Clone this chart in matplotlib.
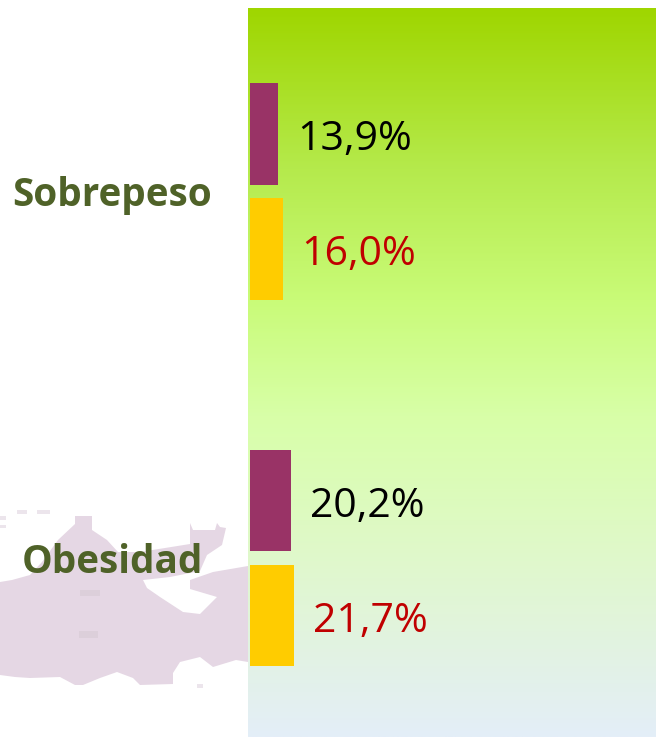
import matplotlib
matplotlib.use('Agg')
import matplotlib.pyplot as plt
import numpy as np
from matplotlib.colors import LinearSegmentedColormap

# chart data
categories = ['Sobrepeso', 'Obesidad']
series_a = [13.9, 20.2]
series_b = [16.0, 21.7]
labels_a = ['13,9%', '20,2%']
labels_b = ['16,0%', '21,7%']

W, H = 656, 737
plt.rcParams['font.family'] = ['Open Sans', 'DejaVu Sans']

fig = plt.figure(figsize=(W / 100, H / 100), dpi=100, facecolor='white')

# pale map behind the labels, traced in image pixels
bg = fig.add_axes([0, 0, 1, 1])
bg.set_xlim(0, W)
bg.set_ylim(H, 0)
bg.axis('off')
map_color = '#e5d7e4'
map_main = [(0, 582), (12, 580), (30, 575), (42, 562), (58, 540), (75, 524), (75, 516), (92, 516),
            (92, 530), (107, 540), (118, 552), (140, 552), (165, 548), (190, 544), (190, 523),
            (193, 530), (215, 530), (217, 523), (220, 527), (226, 528), (222, 545), (207, 555),
            (200, 571), (170, 577), (143, 580), (147, 588), (160, 597), (183, 612), (200, 614),
            (217, 597), (190, 589), (190, 580), (213, 572), (248, 566),
            (248, 662), (236, 660), (213, 667), (200, 657), (180, 662), (173, 673), (173, 684),
            (140, 685), (133, 678), (117, 672), (100, 678), (83, 685), (75, 685), (60, 677),
            (30, 678), (15, 677), (0, 675)]
bg.fill(*zip(*map_main), color=map_color, lw=0)
for x0, x1, y0, y1 in [(80, 100, 590, 596), (79, 98, 631, 638)]:
    bg.fill([x0, x1, x1, x0], [y0, y0, y1, y1], color='#dccfda', lw=0)
for x0, x1, y0, y1 in [(0, 6, 516, 520), (0, 6, 525, 528), (17, 27, 510, 514), (37, 50, 510, 514), (197, 203, 684, 688)]:
    bg.fill([x0, x1, x1, x0], [y0, y0, y1, y1], color='#ece5ec', lw=0)

# gradient panel holding the bars
ax = fig.add_axes([248 / W, 0, (W - 248) / W, (H - 8) / H])
grad = LinearSegmentedColormap.from_list('panel', [
    (0.0, '#9fd600'), (0.22, '#b5ea4c'), (0.40, '#c9fb78'),
    (0.56, '#d8ffa8'), (0.76, '#e0f8cc'), (1.0, '#e4eef8')])
ax.imshow(np.linspace(0, 1, 256).reshape(-1, 1), cmap=grad, aspect='auto',
          extent=(0, 1, 0, 1), transform=ax.transAxes, zorder=0)

pos = np.arange(len(categories))
offset = 0.157
height = 0.277
bars_a = ax.barh(pos - offset, series_a, height=height, color='#993366', zorder=2)
bars_b = ax.barh(pos + offset, series_b, height=height, color='#ffcc00', zorder=2)

ax.set_xlim(-2 / 2.05, 406 / 2.05)
ax.set_ylim(1.488, -0.5)
ax.axis('off')

for bar, txt in zip(bars_a, labels_a):
    ax.annotate(txt, (bar.get_width(), bar.get_y() + bar.get_height() / 2), xytext=(13.5, -4.5),
                textcoords='offset points', va='center', ha='left', fontsize=29.5, color='black')
for bar, txt in zip(bars_b, labels_b):
    ax.annotate(txt, (bar.get_width(), bar.get_y() + bar.get_height() / 2), xytext=(13.5, -4.5),
                textcoords='offset points', va='center', ha='left', fontsize=29.5, color='#c00000')

# category names sit left of the panel
for p, name in zip(pos, categories):
    ax.annotate(name, (-0.333, p), xycoords=ax.get_yaxis_transform(), xytext=(0, -3),
                textcoords='offset points', ha='center', va='center',
                fontsize=27.8, fontweight='bold', color='#4f6228', annotation_clip=False)

fig.savefig('out.png', dpi=100)
